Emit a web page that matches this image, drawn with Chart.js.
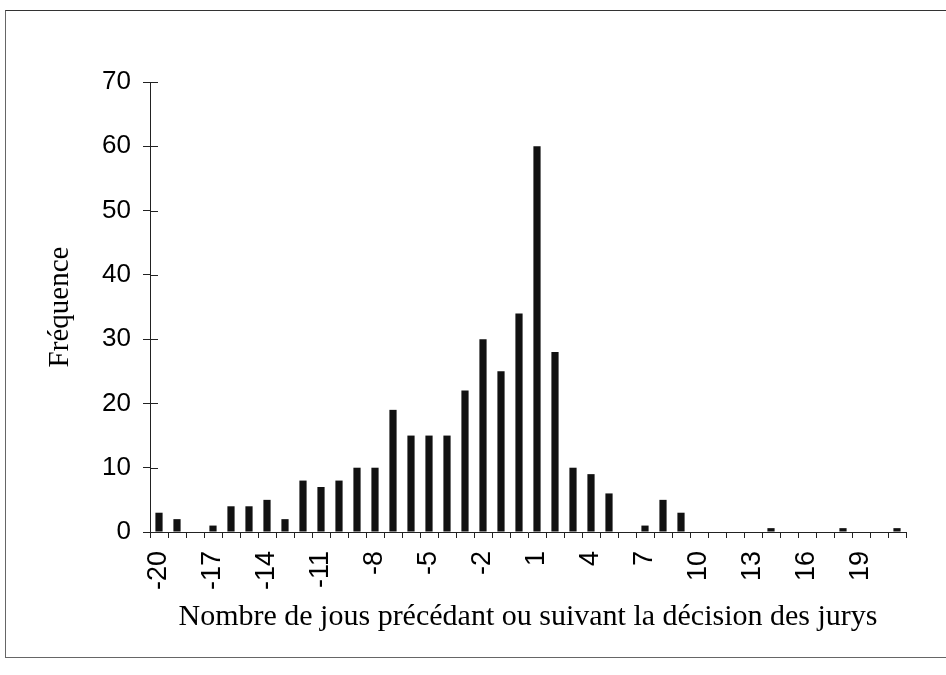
<!DOCTYPE html>
<html>
<head>
<meta charset="utf-8">
<script src="https://cdn.jsdelivr.net/npm/chart.js@4.4.1/dist/chart.umd.min.js"></script>
<style>
  html, body { margin: 0; padding: 0; background: #fff; }
  #wrap { position: relative; width: 946px; height: 675px; overflow: hidden; }
  #frame { position: absolute; left: 5px; top: 10px; width: 960px; height: 646px;
           border-top: 1px solid #333; border-left: 1px solid #666; border-bottom: 1px solid #666; }
  canvas { position: absolute; left: 0; top: 0; }
</style>
</head>
<body>
<div id="wrap">
  <div id="frame"></div>
  <canvas id="c" width="946" height="675"></canvas>
</div>
<script>
// Days relative to the jury decision (categories)
const days = [-20,-19,-18,-17,-16,-15,-14,-13,-12,-11,-10,-9,-8,-7,-6,-5,-4,-3,-2,-1,0,1,2,3,4,5,6,7,8,9,10,11,12,13,14,15,16,17,18,19,20,21];
// Frequencies
const frequence = [3,2,0,1,4,4,5,2,8,7,8,10,10,19,15,15,15,22,30,25,34,60,28,10,9,6,0,1,5,3,0,0,0,0,0.6,0,0,0,0.6,0,0,0.6];
// Tick labels shown on the x axis
const xTickLabels = ['-20','-17','-14','-11','-8','-5','-2','1','4','7','10','13','16','19'];
const yTicks = [0,10,20,30,40,50,60,70];

const xTitle = 'Nombre de jous précédant ou suivant la décision des jurys';
const yTitle = 'Fréquence';

const crossTicks = {
  id: 'crossTicks',
  afterDraw(chart) {
    const ys = chart.scales.y;
    const ctx = chart.ctx;
    const left = chart.chartArea.left;
    ctx.save();
    ctx.strokeStyle = '#222';
    ctx.lineWidth = 1;
    ys.ticks.forEach(t => {
      const py = Math.round(ys.getPixelForValue(t.value)) + 0.5;
      ctx.beginPath();
      ctx.moveTo(left, py);
      ctx.lineTo(left + 8, py);
      ctx.stroke();
    });
    ctx.restore();
  }
};

new Chart(document.getElementById('c'), {
  type: 'bar',
  data: {
    labels: days.map(String),
    datasets: [{
      data: frequence,
      backgroundColor: '#111',
      borderWidth: 0,
      categoryPercentage: 1.0,
      barPercentage: 0.4
    }]
  },
  options: {
    responsive: false,
    animation: false,
    devicePixelRatio: 1,
    layout: { padding: { left: 0, top: 82, right: 40, bottom: 0 } },
    plugins: { legend: { display: false }, tooltip: { enabled: false } },
    scales: {
      x: {
        grid: { display: true, drawOnChartArea: false, drawTicks: true, tickLength: 6, color: '#222', lineWidth: 1, offset: true },
        border: { display: true, color: '#222', width: 1 },
        ticks: {
          autoSkip: false,
          minRotation: 90,
          maxRotation: 90,
          padding: 13,
          color: '#000',
          font: { family: '"Liberation Sans", Arial, sans-serif', size: 27 },
          callback: function(val, idx) {
            const lab = this.getLabelForValue(val);
            return xTickLabels.includes(lab) ? lab : '';
          }
        },
        title: {
          display: true,
          text: xTitle,
          color: '#000',
          font: { family: '"Liberation Serif", "Times New Roman", serif', size: 30 },
          padding: { top: 0, bottom: 40 }
        },
        afterFit: s => { s.height = 143; }
      },
      y: {
        min: 0, max: 70,
        afterBuildTicks: s => { s.ticks = yTicks.map(v => ({ value: v })); },
        grid: { display: true, drawOnChartArea: false, drawTicks: true, tickLength: 7, color: '#222', lineWidth: 1 },
        border: { display: true, color: '#222', width: 1 },
        ticks: {
          padding: 12,
          color: '#000',
          font: { family: '"Liberation Sans", Arial, sans-serif', size: 26 }
        },
        title: {
          display: true,
          text: yTitle,
          color: '#000',
          font: { family: '"Liberation Serif", "Times New Roman", serif', size: 29 },
          padding: { top: 43, bottom: 0 }
        },
        afterFit: s => { s.width = 150; }
      }
    }
  },
  plugins: [crossTicks]
});
</script>
</body>
</html>
